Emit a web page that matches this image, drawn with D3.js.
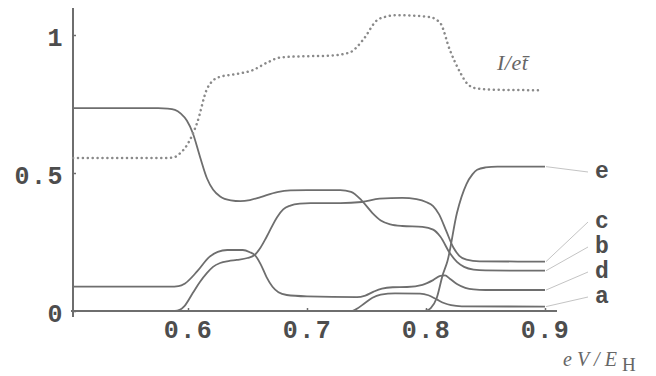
<!DOCTYPE html>
<html><head><meta charset="utf-8">
<script src="https://cdn.jsdelivr.net/npm/d3@7"></script>
<style>body{margin:0;background:#fff}</style></head>
<body><svg id="c" width="656" height="376"></svg>
<script>
// ---- data ----
const xTicks = [0.6, 0.7, 0.8, 0.9];
const xTickLabels = ["0.6", "0.7", "0.8", "0.9"];
const yTicks = [0, 0.5, 1];
const yTickLabels = ["0", "0.5", "1"];
const seriesNames = ["e", "c", "b", "d", "a"];
const seriesE = [[0.5034,0],[0.797,0],[0.801,0.002],[0.804,0.01],[0.809,0.047],[0.814,0.13],[0.818,0.18],[0.826,0.355],[0.834,0.46],[0.839,0.495],[0.843,0.512],[0.85,0.52],[0.86,0.523],[0.9,0.523]];
const seriesC = [[0.5034,0],[0.589,0],[0.593,0.004],[0.597,0.018],[0.604,0.065],[0.61,0.105],[0.616,0.138],[0.621,0.16],[0.627,0.174],[0.634,0.181],[0.641,0.185],[0.650,0.192],[0.656,0.203],[0.661,0.23],[0.666,0.268],[0.675,0.341],[0.68,0.368],[0.686,0.382],[0.694,0.389],[0.703,0.391],[0.728,0.391],[0.746,0.395],[0.761,0.407],[0.78,0.41],[0.792,0.405],[0.8,0.395],[0.806,0.38],[0.811,0.35],[0.817,0.29],[0.823,0.23],[0.828,0.2],[0.834,0.186],[0.845,0.18],[0.9,0.179]];
const seriesB = [[0.5034,0.735],[0.575,0.735],[0.583,0.7335],[0.589,0.729],[0.594,0.715],[0.599,0.69],[0.604,0.645],[0.610,0.56],[0.616,0.48],[0.621,0.44],[0.627,0.415],[0.636,0.401],[0.644,0.398],[0.652,0.402],[0.661,0.413],[0.675,0.431],[0.686,0.437],[0.70,0.438],[0.728,0.438],[0.737,0.432],[0.746,0.40],[0.755,0.355],[0.762,0.328],[0.77,0.314],[0.78,0.308],[0.797,0.305],[0.806,0.295],[0.812,0.27],[0.820,0.21],[0.826,0.178],[0.832,0.16],[0.84,0.15],[0.85,0.147],[0.9,0.146]];
const seriesD = [[0.5034,0.088],[0.585,0.088],[0.592,0.09],[0.5975,0.1],[0.608,0.145],[0.618,0.196],[0.625,0.214],[0.633,0.221],[0.646,0.221],[0.652,0.213],[0.656,0.203],[0.661,0.17],[0.666,0.123],[0.671,0.088],[0.676,0.068],[0.683,0.058],[0.70,0.053],[0.742,0.05],[0.749,0.056],[0.756,0.07],[0.763,0.081],[0.772,0.086],[0.784,0.087],[0.797,0.095],[0.806,0.112],[0.812,0.127],[0.816,0.129],[0.820,0.117],[0.826,0.098],[0.833,0.084],[0.84,0.078],[0.85,0.076],[0.9,0.076]];
const seriesA = [[0.5034,0],[0.737,0],[0.741,0.006],[0.749,0.03],[0.755,0.048],[0.762,0.059],[0.774,0.064],[0.795,0.063],[0.802,0.057],[0.809,0.042],[0.815,0.029],[0.821,0.021],[0.83,0.017],[0.9,0.016]];
const currentI = [[0.5034,0.554],[0.58,0.554],[0.5875,0.556],[0.5935,0.572],[0.599,0.6],[0.6076,0.681],[0.616,0.805],[0.621,0.835],[0.6265,0.848],[0.64,0.858],[0.6546,0.873],[0.666,0.899],[0.677,0.918],[0.69,0.922],[0.719,0.925],[0.736,0.937],[0.747,0.982],[0.759,1.054],[0.768,1.068],[0.776,1.072],[0.803,1.065],[0.812,1.043],[0.820,0.946],[0.829,0.862],[0.835,0.822],[0.842,0.807],[0.855,0.802],[0.896,0.80]];

// ---- layout ----
const svg = d3.select("#c");
svg.append("rect").attr("width",656).attr("height",376).attr("fill","#fff");
const x = d3.scaleLinear().domain([0.6, 0.9]).range([188, 545]);
const y = d3.scaleLinear().domain([0, 1]).range([311, 35]);
const x0 = x.invert(73), x1 = x.invert(557);
const grey = "#6e6e6e";
const mono = "'Liberation Mono','DejaVu Sans Mono',monospace";
const serif = "'Liberation Serif','DejaVu Serif',serif";

// axes
const xAxis = d3.axisBottom(x).tickValues(xTicks).tickFormat((d,i)=>xTickLabels[i]).tickSize(-3).tickPadding(9);
const yAxis = d3.axisLeft(y).tickValues(yTicks).tickFormat((d,i)=>yTickLabels[i]).tickSize(-3).tickPadding(9);
const gx = svg.append("g").attr("transform",`translate(0,${y(0)})`).call(xAxis);
const gy = svg.append("g").attr("transform",`translate(${x(x0)},0)`).call(yAxis);
gx.select(".domain").remove(); gy.select(".domain").remove();
[gx,gy].forEach(g=>{
  g.selectAll(".tick line").attr("stroke",grey).attr("stroke-width",1.5);
  g.selectAll(".tick text").attr("fill","#4d4d4d").attr("font-family",mono)
   .attr("font-weight","bold").attr("font-size",25).style("letter-spacing","1.5px");
});
gy.selectAll(".tick text").attr("dy","0.42em");
gx.selectAll(".tick text").attr("dy","0.72em");
svg.append("line").attr("x1",x(x0)).attr("x2",x(x0)).attr("y1",8).attr("y2",y(0)+6)
  .attr("stroke",grey).attr("stroke-width",2);
svg.append("line").attr("x1",x(x0)-2).attr("x2",x(x1)).attr("y1",y(0)).attr("y2",y(0))
  .attr("stroke",grey).attr("stroke-width",2);

// curves
const line = d3.line().x(d=>x(d[0])).y(d=>y(d[1])).curve(d3.curveMonotoneX);
const solid = [seriesE, seriesC, seriesB, seriesD, seriesA];
solid.forEach(s=>{
  svg.append("path").attr("d",line(s)).attr("fill","none")
    .attr("stroke",grey).attr("stroke-width",1.8);
});
svg.append("path").attr("d",line(currentI)).attr("fill","none")
  .attr("stroke","#8a8a8a").attr("stroke-width",2.5)
  .attr("stroke-linecap","round").attr("stroke-dasharray","0.1,4.8");

// labels and leaders
const labelY = [170, 220, 245, 270, 295];
solid.forEach((s,i)=>{
  const last = s[s.length-1];
  svg.append("line").attr("x1",x(last[0])+1).attr("y1",y(last[1]))
    .attr("x2",588).attr("y2",labelY[i]+2)
    .attr("stroke","#c4c4c4").attr("stroke-width",1);
  svg.append("text").attr("x",602).attr("y",labelY[i]).attr("dy","0.35em")
    .attr("text-anchor","middle").attr("font-family",mono).attr("font-weight","bold")
    .attr("font-size",23).attr("fill","#4d4d4d").text(seriesNames[i]);
});

// annotations
svg.append("text").attr("x",497).attr("y",70).attr("font-family",serif)
  .attr("font-style","italic").attr("font-size",22).attr("fill","#666")
  .style("letter-spacing","0.5px").text("I/et\u0304");
const t = svg.append("text").attr("x",563).attr("y",366).attr("font-family",serif)
  .attr("font-size",20).attr("fill","#666");
t.append("tspan").attr("font-style","italic").style("letter-spacing","5px").text("eV/E");
t.append("tspan").attr("dy",5).attr("font-size",19).text("H");
</script></body></html>
